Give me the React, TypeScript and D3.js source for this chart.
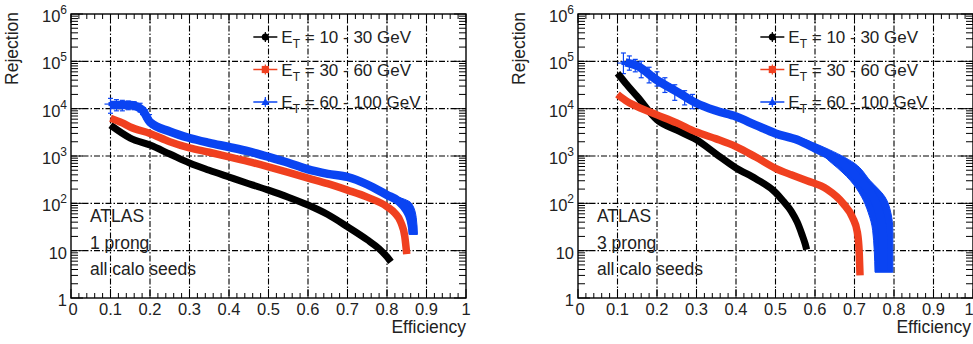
import React from 'react';
import * as d3 from 'd3';

// efficiency vs rejection
const effTicks = [0, 0.1, 0.2, 0.3, 0.4, 0.5, 0.6, 0.7, 0.8, 0.9, 1];
const effTickLabels = ['0', '0.1', '0.2', '0.3', '0.4', '0.5', '0.6', '0.7', '0.8', '0.9', '1'];
const rejDecades = [1, 10, 100, 1000, 10000, 100000, 1000000];
const rejExponents = ['', '', '2', '3', '4', '5', '6'];

const seriesNames = ['10 - 30 GeV', '30 - 60 GeV', '60 - 100 GeV'];
const seriesColors = ['#000000', '#f0401f', '#0a44f2'];

// 1 prong
const oneProngLow: [number, number][] = [
  [0.1, 4500], [0.15, 2400], [0.2, 1700], [0.25, 1100], [0.3, 710], [0.35, 500], [0.4, 360],
  [0.45, 260], [0.5, 190], [0.55, 135], [0.6, 92], [0.65, 58], [0.7, 32], [0.75, 17], [0.78, 11], [0.8, 7.4], [0.81, 5.8],
];
const oneProngMid: [number, number][] = [
  [0.1, 6300], [0.13, 5000], [0.15, 4100], [0.2, 3000], [0.25, 2000], [0.3, 1480], [0.35, 1200], [0.4, 960],
  [0.45, 760], [0.5, 590], [0.55, 450], [0.6, 340], [0.65, 260], [0.7, 190], [0.75, 135], [0.8, 85],
  [0.82, 62], [0.835, 40], [0.845, 20], [0.85, 8.5],
];
const oneProngHigh: [number, number][] = [
  [0.1, 12000], [0.15, 12000], [0.18, 9500], [0.2, 5200], [0.25, 3300], [0.3, 2400], [0.35, 1900],
  [0.4, 1550], [0.45, 1250], [0.5, 960], [0.55, 720], [0.6, 520], [0.65, 420], [0.7, 360], [0.75, 250],
  [0.8, 150], [0.83, 110], [0.85, 70], [0.86, 45], [0.864, 30], [0.866, 23],
];
// wide tail of the blue band: [rejection, eff low edge, eff high edge]
const oneProngHighBand: [number, number, number][] = [
  [150, 0.797, 0.812], [100, 0.835, 0.862], [50, 0.852, 0.874], [22, 0.856, 0.877],
];
const oneProngHighErr: [number, number, number, number][] = [
  [0.1, 12500, 8000, 16500], [0.115, 12000, 9000, 15500], [0.13, 12000, 9000, 15000], [0.145, 12000, 9500, 14500],
  [0.16, 11500, 9500, 14000], [0.175, 10500, 8500, 13000], [0.19, 7500, 6000, 9500],
];

// 3 prong
const threeProngLow: [number, number][] = [
  [0.1, 56000], [0.12, 35000], [0.15, 18000], [0.2, 5800], [0.25, 3500], [0.3, 2200], [0.35, 1100],
  [0.4, 560], [0.45, 330], [0.5, 170], [0.52, 110], [0.54, 68], [0.555, 40], [0.567, 22], [0.575, 14], [0.579, 10.5],
];
const threeProngMid: [number, number][] = [
  [0.1, 20000], [0.12, 15000], [0.15, 11000], [0.2, 7400], [0.25, 5000], [0.3, 3200], [0.35, 2300],
  [0.4, 1580], [0.45, 950], [0.5, 550], [0.54, 400], [0.58, 300], [0.63, 200], [0.671, 100], [0.695, 50],
  [0.707, 25], [0.712, 9], [0.714, 3],
];
const threeProngHigh: [number, number][] = [
  [0.12, 95000], [0.15, 80000], [0.2, 40000], [0.25, 23000], [0.3, 13000], [0.35, 9000], [0.4, 6800],
  [0.45, 4500], [0.5, 3000], [0.555, 2200], [0.6, 1450], [0.67, 700], [0.715, 300], [0.747, 137],
  [0.763, 63], [0.771, 27], [0.774, 3.8],
];
const threeProngHighBand: [number, number, number][] = [
  [2600, 0.52, 0.555], [1500, 0.59, 0.625], [700, 0.643, 0.7], [300, 0.69, 0.74], [137, 0.718, 0.777],
  [63, 0.735, 0.792], [27, 0.746, 0.797], [3.5, 0.752, 0.797],
];
const threeProngHighErr: [number, number, number, number][] = [
  [0.115, 92000, 55000, 150000], [0.13, 95000, 65000, 130000], [0.145, 85000, 60000, 110000],
  [0.16, 70000, 45000, 100000], [0.18, 55000, 35000, 75000], [0.2, 42000, 30000, 60000],
  [0.22, 33000, 22000, 45000], [0.245, 25000, 15000, 32000], [0.27, 18000, 12000, 24000],
  [0.29, 15000, 10000, 20000],
];

type Pt = [number, number];
type BandPt = [number, number, number];
type ErrPt = [number, number, number, number];

const PLOT_TOP = 14;
const PLOT_BOTTOM = 298;
const FONT = '"Liberation Sans", Arial, Helvetica, sans-serif';

function Panel({ left, label, curves, band, errs }: { left: number; label: string; curves: Pt[][]; band: BandPt[]; errs: ErrPt[] }) {
  const right = left + 395;
  const x = d3.scaleLinear().domain([0, 1]).range([left, right]);
  const y = d3.scaleLog().domain([1, 1e6]).range([PLOT_BOTTOM, PLOT_TOP]);
  const line = d3
    .line<Pt>()
    .x(d => x(d[0]))
    .y(d => y(d[1]))
    .curve(d3.curveMonotoneX);
  const bandArea = d3
    .area<BandPt>()
    .y(d => y(d[0]))
    .x0(d => x(d[1]))
    .x1(d => x(d[2]))
    .curve(d3.curveMonotoneY);

  const minorX = d3.range(0, 1.0001, 0.02).filter(v => Math.abs(v * 10 - Math.round(v * 10)) > 1e-6);
  const minorY: number[] = [];
  rejDecades.slice(0, -1).forEach(d => {
    for (let k = 2; k <= 9; k++) minorY.push(d * k);
  });

  const widths = [7, 7.5, 8.5];
  const clipId = `clip-${left}`;

  return (
    <g>
      <defs>
        <clipPath id={clipId}>
          <rect x={left} y={PLOT_TOP} width={right - left} height={PLOT_BOTTOM - PLOT_TOP} />
        </clipPath>
      </defs>
      {/* grid */}
      {effTicks.slice(1, -1).map(t => (
        <line key={'gx' + t} x1={x(t)} x2={x(t)} y1={PLOT_TOP} y2={PLOT_BOTTOM} stroke="#000" strokeWidth={1.1} strokeDasharray="6,2,1.5,2" />
      ))}
      {rejDecades.slice(1, -1).map(t => (
        <line key={'gy' + t} x1={left} x2={right} y1={y(t)} y2={y(t)} stroke="#000" strokeWidth={1.1} strokeDasharray="6,2,1.5,2" />
      ))}
      {/* ticks */}
      {minorX.map(t => (
        <g key={'mx' + t}>
          <line x1={x(t)} x2={x(t)} y1={PLOT_BOTTOM} y2={PLOT_BOTTOM - 5} stroke="#000" strokeWidth={1} />
          <line x1={x(t)} x2={x(t)} y1={PLOT_TOP} y2={PLOT_TOP + 5} stroke="#000" strokeWidth={1} />
        </g>
      ))}
      {effTicks.map(t => (
        <g key={'Mx' + t}>
          <line x1={x(t)} x2={x(t)} y1={PLOT_BOTTOM} y2={PLOT_BOTTOM - 9} stroke="#000" strokeWidth={1} />
          <line x1={x(t)} x2={x(t)} y1={PLOT_TOP} y2={PLOT_TOP + 9} stroke="#000" strokeWidth={1} />
        </g>
      ))}
      {minorY.map(t => (
        <g key={'my' + t}>
          <line x1={left} x2={left + 7} y1={y(t)} y2={y(t)} stroke="#000" strokeWidth={1} />
          <line x1={right} x2={right - 7} y1={y(t)} y2={y(t)} stroke="#000" strokeWidth={1} />
        </g>
      ))}
      {rejDecades.map(t => (
        <g key={'My' + t}>
          <line x1={left} x2={left + 12} y1={y(t)} y2={y(t)} stroke="#000" strokeWidth={1} />
          <line x1={right} x2={right - 12} y1={y(t)} y2={y(t)} stroke="#000" strokeWidth={1} />
        </g>
      ))}
      {/* curves */}
      <g clipPath={`url(#${clipId})`}>
        {errs.map((e, i) => (
          <g key={'e' + i} stroke={seriesColors[2]} strokeWidth={1.2}>
            <line x1={x(e[0])} x2={x(e[0])} y1={y(e[2])} y2={y(e[3])} />
            <line x1={x(e[0]) - 2.5} x2={x(e[0]) + 2.5} y1={y(e[2])} y2={y(e[2])} />
            <line x1={x(e[0]) - 2.5} x2={x(e[0]) + 2.5} y1={y(e[3])} y2={y(e[3])} />
            <line x1={x(e[0]) - 6} x2={x(e[0]) + 6} y1={y(e[1])} y2={y(e[1])} />
            <rect x={x(e[0]) - 2} y={y(e[1]) - 2} width={4} height={4} fill={seriesColors[2]} stroke="none" />
          </g>
        ))}
        <path d={bandArea(band) ?? ''} fill={seriesColors[2]} stroke={seriesColors[2]} strokeWidth={1} />
        {curves.map((c, i) => (
          <path key={'c' + i} d={line(c) ?? ''} fill="none" stroke={seriesColors[i]} strokeWidth={widths[i]} strokeLinecap="butt" strokeLinejoin="round" />
        ))}
      </g>
      {/* frame */}
      <rect x={left} y={PLOT_TOP} width={right - left} height={PLOT_BOTTOM - PLOT_TOP} fill="none" stroke="#000" strokeWidth={1.4} />
      {/* axis labels */}
      {effTicks.map((t, i) => (
        <text
          key={'lx' + t}
          x={x(t) + (i === 0 ? 2 : 0) - (x(t) > 966 ? 4 : 0)}
          y={315}
          textAnchor="middle"
          fontSize={16.5}
          fontFamily={FONT}
          fill="#222"
        >
          {effTickLabels[i]}
        </text>
      ))}
      {rejDecades.map((t, i) =>
        i < 2 ? (
          <text key={'ly' + t} x={left - 4} y={y(t) + 8} textAnchor="end" fontSize={16.5} fontFamily={FONT} fill="#222">
            {t}
          </text>
        ) : (
          <text key={'ly' + t} x={left - 4} y={y(t) + 8} textAnchor="end" fontSize={16.5} fontFamily={FONT} fill="#222">
            10<tspan dy={-8} fontSize={12}>{rejExponents[i]}</tspan>
          </text>
        )
      )}
      <text transform={`translate(${left - 53},${PLOT_TOP - 2}) rotate(-90)`} textAnchor="end" fontSize={17.5} fontFamily={FONT} fill="#222">
        Rejection
      </text>
      <text x={Math.min(right, 971)} y={333} textAnchor="end" fontSize={17.5} fontFamily={FONT} fill="#222">
        Efficiency
      </text>
      {/* text */}
      <g fontSize={17.5} fontFamily={FONT} fill="#222">
        <text x={left + 19} y={222}>ATLAS</text>
        <text x={left + 19} y={249}>{label}</text>
        <text x={left + 19} y={275}>all calo seeds</text>
      </g>
      {/* legend */}
      {seriesNames.map((n, i) => {
        const ly = 37 + i * 32.5;
        const lx = x(0.492);
        return (
          <g key={'lg' + i}>
            <line x1={lx - 12} x2={lx + 12} y1={ly} y2={ly} stroke={seriesColors[i]} strokeWidth={1.5} />
            <line x1={lx} x2={lx} y1={ly - 5} y2={ly + 5} stroke={seriesColors[i]} strokeWidth={1.2} />
            {i === 0 && <circle cx={lx} cy={ly} r={3.6} fill={seriesColors[i]} />}
            {i === 1 && <rect x={lx - 3.6} y={ly - 3.6} width={7.2} height={7.2} fill={seriesColors[i]} />}
            {i === 2 && <path d={`M${lx - 4},${ly + 3} L${lx + 4},${ly + 3} L${lx},${ly - 4} Z`} fill={seriesColors[i]} />}
            <text x={lx + 16} y={ly + 6} fontSize={17} fontFamily={FONT} fill="#222">
              E<tspan dy={5} fontSize={12}>T</tspan>
              <tspan dy={-5}> = {n}</tspan>
            </text>
          </g>
        );
      })}
    </g>
  );
}

export default function App() {
  return (
    <svg width={973} height={344} style={{ position: 'absolute', left: 0, top: 0, background: '#fff' }}>
      <Panel left={71} label="1 prong" curves={[oneProngLow, oneProngMid, oneProngHigh]} band={oneProngHighBand} errs={oneProngHighErr} />
      <Panel left={578} label="3 prong" curves={[threeProngLow, threeProngMid, threeProngHigh]} band={threeProngHighBand} errs={threeProngHighErr} />
    </svg>
  );
}
